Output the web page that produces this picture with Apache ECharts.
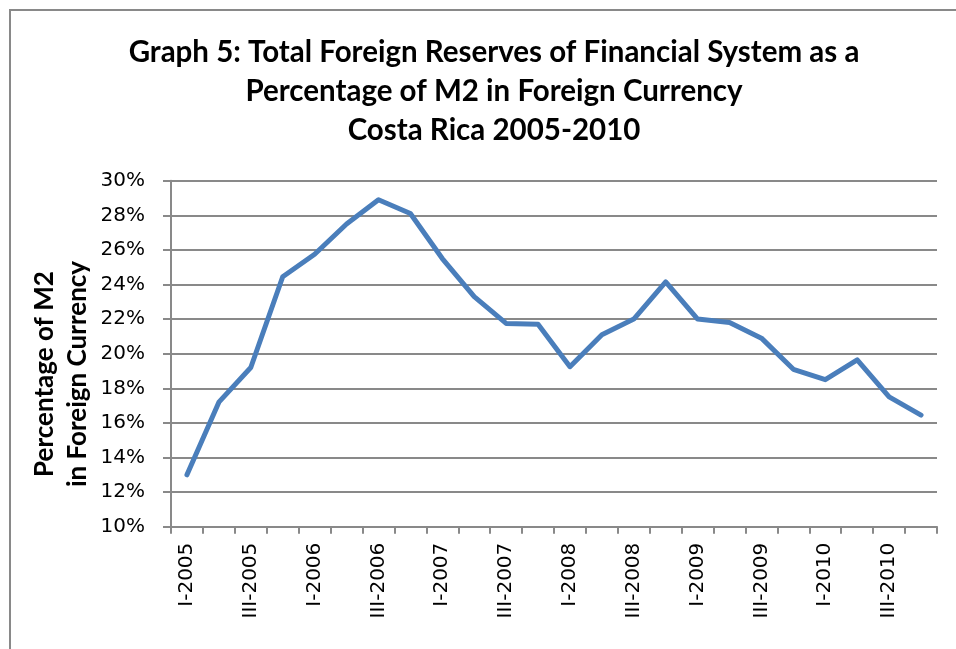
<!DOCTYPE html>
<html>
<head>
<meta charset="utf-8">
<script src="https://cdn.jsdelivr.net/npm/echarts@6/dist/echarts.min.js"></script>
<style>
html,body{margin:0;padding:0;background:#fff;}
#chart{width:956px;height:649px;}
</style>
</head>
<body>
<div id="chart"></div>
<script>
const categories = ['I-2005','II-2005','III-2005','IV-2005','I-2006','II-2006','III-2006','IV-2006','I-2007','II-2007','III-2007','IV-2007','I-2008','II-2008','III-2008','IV-2008','I-2009','II-2009','III-2009','IV-2009','I-2010','II-2010','III-2010','IV-2010'];
const reservesPct = [13.0, 17.2, 19.2, 24.45, 25.75, 27.5, 28.9, 28.1, 25.5, 23.3, 21.75, 21.7, 19.25, 21.1, 22.0, 24.15, 22.0, 21.8, 20.9, 19.1, 18.5, 19.65, 17.5, 16.45];
const yTicks = [10, 12, 14, 16, 18, 20, 22, 24, 26, 28, 30];

const chart = echarts.init(document.getElementById('chart'), null, {renderer: 'canvas'});
const gray = '#898989';
chart.setOption({
  animation: false,
  backgroundColor: '#ffffff',
  graphic: [{
    type: 'rect', shape: {x: 10, y: 10, width: 1000, height: 1000},
    style: {fill: 'none', stroke: gray, lineWidth: 2}, silent: true, z: -1
  }, {
    type: 'text', x: 61, y: 374, rotation: Math.PI / 2, silent: true,
    style: {
      text: 'Percentage of M2\nin Foreign Currency',
      fontFamily: 'Lato', fontWeight: 'bold', fontSize: 26, lineHeight: 33,
      fill: '#000', align: 'center', verticalAlign: 'middle'
    }
  }],
  title: {
    text: 'Graph 5: Total Foreign Reserves of Financial System as a\nPercentage of M2 in Foreign Currency\nCosta Rica 2005-2010',
    left: 489, top: 28, textAlign: 'center',
    textStyle: {fontFamily: 'Lato', fontWeight: 'bold', fontSize: 29.5, lineHeight: 39, color: '#000'}
  },
  grid: {left: 171, right: 19, top: 180.7, bottom: 122.3, containLabel: false},
  xAxis: {
    type: 'category', data: categories, boundaryGap: true,
    axisLine: {lineStyle: {color: gray, width: 2}},
    axisTick: {show: true, interval: 0, length: 7, lineStyle: {color: gray, width: 2}},
    axisLabel: {interval: 1, rotate: 90, margin: 16, color: '#000', fontFamily: 'DejaVu Sans', fontSize: 20}
  },
  yAxis: {
    type: 'value', min: yTicks[0], max: yTicks[yTicks.length - 1], interval: 2,
    axisLine: {show: true, lineStyle: {color: gray, width: 2}},
    axisTick: {show: true, length: 8, lineStyle: {color: gray, width: 2}},
    splitLine: {show: true, lineStyle: {color: gray, width: 2}},
    axisLabel: {margin: 26, color: '#000', fontFamily: 'DejaVu Sans', fontSize: 20, formatter: v => v + '%'}
  },
  series: [{
    type: 'line', data: reservesPct, showSymbol: false, symbol: 'none',
    lineStyle: {color: '#4a7ebb', width: 5, join: 'round', cap: 'round'},
    itemStyle: {color: '#4a7ebb'}
  }]
});
</script>
</body>
</html>
